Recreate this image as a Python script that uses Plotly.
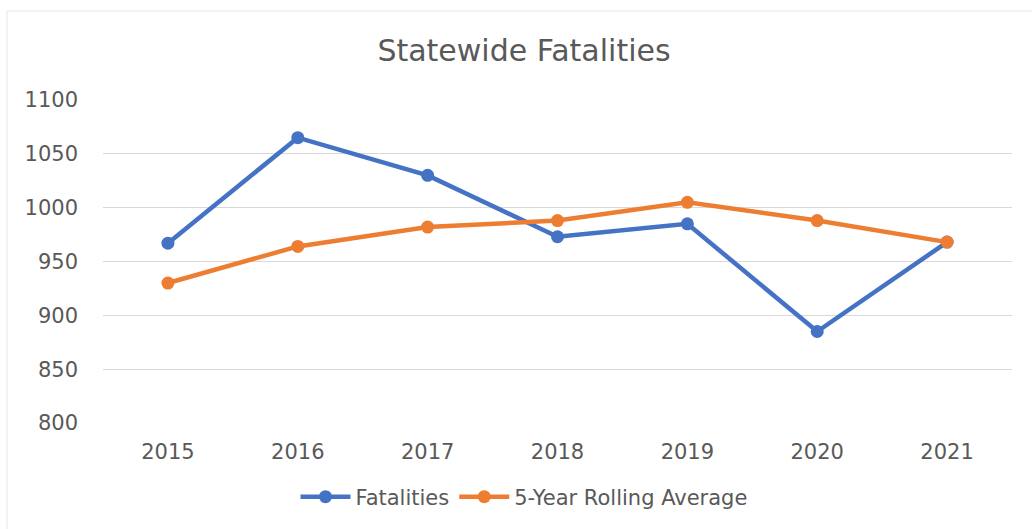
import plotly.graph_objects as go

years = ["2015", "2016", "2017", "2018", "2019", "2020", "2021"]
fatalities = [967, 1065, 1030, 973, 985, 885, 968]
rolling_avg = [930, 964, 982, 988, 1005, 988, 968]
y_ticks = [800, 850, 900, 950, 1000, 1050, 1100]

W, H = 1032, 529
ml, mr, mt, mb = 103, 20, 100, 106
FONT = "DejaVu Sans"
GREY = "#595959"

fig = go.Figure()
fig.add_trace(go.Scatter(
    x=years, y=fatalities, name="Fatalities", mode="lines+markers",
    line=dict(color="#4472C4", width=4.5), marker=dict(size=13, color="#4472C4"),
))
fig.add_trace(go.Scatter(
    x=years, y=rolling_avg, name="5-Year Rolling Average", mode="lines+markers",
    line=dict(color="#ED7D31", width=4.5), marker=dict(size=13, color="#ED7D31"),
))

pw = W - ml - mr
ph = H - mt - mb
def px_x(p):
    return (p - ml) / pw
def px_y(p):
    return (H - mb - p) / ph

fig.update_layout(
    width=W, height=H,
    margin=dict(l=ml, r=mr, t=mt, b=mb, autoexpand=False),
    paper_bgcolor="white", plot_bgcolor="white",
    font=dict(family=FONT, color=GREY),
    title=dict(text="Statewide Fatalities", x=px_x(524), xref="paper", xanchor="center",
               y=1 - 50 / H, yref="container", yanchor="middle",
               font=dict(size=30, color=GREY, family=FONT)),
    xaxis=dict(range=[-0.5, 6.5], showgrid=False, showline=False, zeroline=False,
               tickfont=dict(size=21, color=GREY, family=FONT), ticks="",
               ticklabelstandoff=14, tickangle=0),
    yaxis=dict(range=[800, 1100], tickvals=y_ticks, showgrid=True,
               gridcolor="#D9D9D9", gridwidth=1, zeroline=False, showline=False,
               tickfont=dict(size=21, color=GREY, family=FONT), ticks="",
               ticklabelstandoff=24),
    legend=dict(orientation="h", x=px_x(524), xanchor="center", xref="paper",
                y=px_y(497), yanchor="middle",
                font=dict(size=21, color=GREY, family=FONT), itemwidth=50),
    showlegend=True,
    shapes=[dict(type="rect", xref="paper", yref="paper",
                 x0=px_x(7), x1=px_x(1040), y0=px_y(540), y1=px_y(11),
                 line=dict(color="#E6E6E6", width=1), fillcolor="rgba(0,0,0,0)",
                 layer="below")],
)

fig.write_html("out.html")
